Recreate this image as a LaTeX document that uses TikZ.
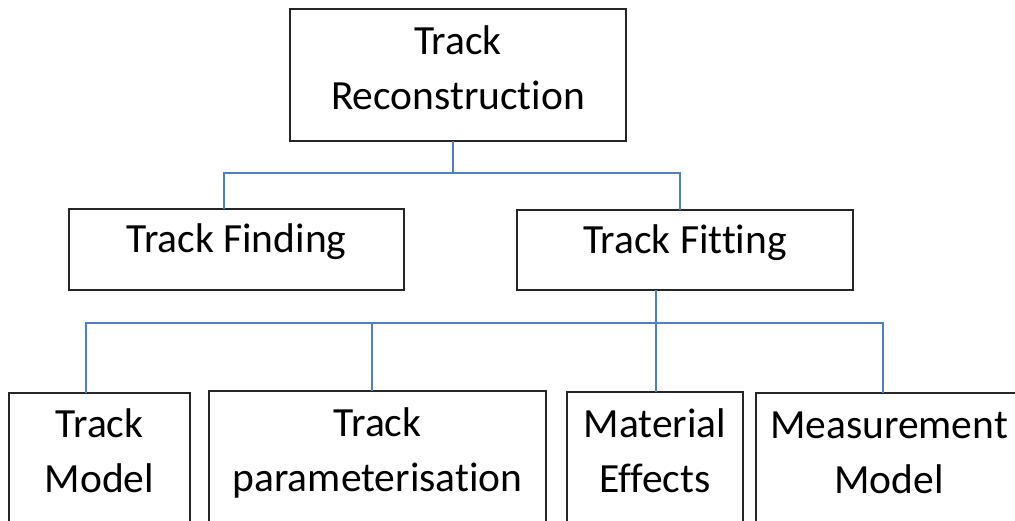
\documentclass[tikz,border=0pt]{standalone}
\usepackage{fontspec}
\setmainfont[Ligatures=NoCommon]{Carlito}
\definecolor{linkblue}{RGB}{79,129,189}
\begin{document}
\begin{tikzpicture}[x=1pt,y=-1pt,
  box/.style={draw=black!85,line width=1.8pt,rectangle,inner sep=0pt,outer sep=0pt},
  txt/.style={font=\fontsize{41.5}{55}\selectfont,inner sep=0pt,anchor=base},
  link/.style={draw=linkblue,line width=1.3pt}]
\useasboundingbox (0,0) rectangle (1015,521);
\clip (0,0) rectangle (1015,521);

% boxes
\node[box,minimum width=336pt,minimum height=132pt] (top)   at (458,75)    {};
\node[box,minimum width=335pt,minimum height=81pt]  (find)  at (236.5,249.5) {};
\node[box,minimum width=336pt,minimum height=80pt]  (fit)   at (685,250)   {};
\node[box,minimum width=181pt,minimum height=180pt] (model) at (99.5,483)  {};
\node[box,minimum width=337pt,minimum height=180pt] (param) at (377.5,481) {};
\node[box,minimum width=176pt,minimum height=180pt] (mat)   at (655,482)   {};
\node[box,minimum width=266pt,minimum height=180pt] (meas)  at (889,483)   {};

% labels
\node[txt] (topA)   at (top.center |- 0,55)    {Track};
\node[txt] (topB)   at (top.center |- 0,110)   {Reconstruction};
\node[txt] (findA)  at (find.center |- 0,253)  {Track Finding};
\node[txt] (fitA)   at (fit.center |- 0,254)   {Track Fitting};
\node[txt] (modelA) at (model.center |- 0,437) {Track};
\node[txt] (modelB) at (model.center |- 0,492) {Model};
\node[txt] (paramA) at (param.center |- 0,436) {Track};
\node[txt] (paramB) at (param.center |- 0,491) {parameterisation};
\node[txt] (matA)   at (mat.center |- 0,437)   {Material};
\node[txt] (matB)   at (mat.center |- 0,492)   {Effects};
\node[txt] (measA)  at (meas.center |- 0,438)  {Measurement};
\node[txt] (measB)  at (meas.center |- 0,493)  {Model};

% junctions of the tree
\coordinate (j1) at (453,173);
\coordinate (j2) at (656,323);

% first level
\draw[link] (top.south -| j1) -- (j1);
\draw[link] (find.north -| 224,0) |- (j1);
\draw[link] (fit.north -| 680,0) |- (j1);

% second level
\draw[link] (fit.south -| j2) -- (mat.north -| j2);
\draw[link] (model.north -| 86,0) |- (j2);
\draw[link] (param.north -| 372,0) -- (372,323);
\draw[link] (meas.north -| 883,0) |- (j2);
\end{tikzpicture}
\end{document}
